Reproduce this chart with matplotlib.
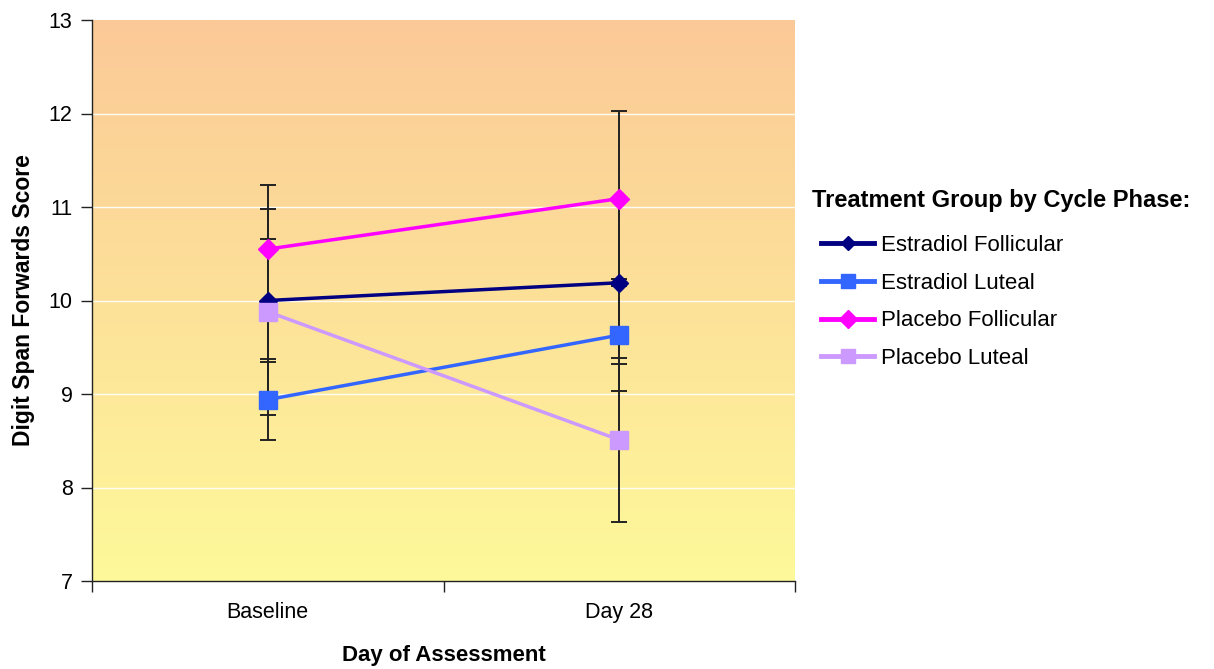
import numpy as np
import matplotlib.pyplot as plt
from matplotlib.colors import LinearSegmentedColormap
from matplotlib.lines import Line2D

plt.rcParams['font.family'] = ['Liberation Sans', 'DejaVu Sans']

days = ["Baseline", "Day 28"]
groups = ["Estradiol Follicular", "Estradiol Luteal", "Placebo Follicular", "Placebo Luteal"]
means = {
    "Estradiol Follicular": [10.00, 10.19],
    "Estradiol Luteal": [8.94, 9.63],
    "Placebo Follicular": [10.55, 11.09],
    "Placebo Luteal": [9.88, 8.51],
}
errors = {
    "Estradiol Follicular": [0.655, 0.87],
    "Estradiol Luteal": [0.43, 0.60],
    "Placebo Follicular": [0.69, 0.935],
    "Placebo Luteal": [1.10, 0.875],
}
colors = {
    "Estradiol Follicular": "#000080",
    "Estradiol Luteal": "#3366FF",
    "Placebo Follicular": "#FF00FF",
    "Placebo Luteal": "#CC99FF",
}
markers = {
    "Estradiol Follicular": ("D", 9),
    "Estradiol Luteal": ("s", 13),
    "Placebo Follicular": ("D", 10),
    "Placebo Luteal": ("s", 13),
}
legend_marker_size = {
    "Estradiol Follicular": 7,
    "Estradiol Luteal": 10,
    "Placebo Follicular": 9,
    "Placebo Luteal": 10,
}

fig = plt.figure(figsize=(12.14, 6.69), dpi=100)
ax = fig.add_axes([92 / 1214, 1 - 581 / 669, (795 - 92) / 1214, (581 - 20) / 669])

# Gradient plot-area fill: peach at top fading to pale yellow at bottom
cmap = LinearSegmentedColormap.from_list("bg", ["#FEF99A", "#FBC997"])
grad = np.linspace(0, 1, 256).reshape(-1, 1)
ax.imshow(grad, cmap=cmap, aspect="auto", origin="lower",
          extent=[0, 1, 0, 1], transform=ax.transAxes, zorder=0)

ax.set_xlim(-0.5, 1.5)
ax.set_ylim(7, 13)
for yv in range(8, 13):
    ax.axhline(yv, color="white", lw=1.0, zorder=1, alpha=0.9)

x = np.arange(len(days))
for g in groups:
    ax.errorbar(x, means[g], yerr=errors[g], fmt="none", ecolor="#222222",
                elinewidth=1.4, capsize=5.5, capthick=1.4, zorder=2)
for g in groups:
    m, ms = markers[g]
    ax.plot(x, means[g], color=colors[g], lw=2.5, marker=m, ms=ms,
            mec=colors[g], mfc=colors[g], zorder=3, label=g)

ax.set_yticks(range(7, 14))
ax.set_xticks([-0.5, 0.5, 1.5])
ax.set_xticklabels([])
ax.set_xticks(x, minor=True)
ax.set_xticklabels(days, minor=True)
ax.tick_params(axis="x", which="major", direction="out", length=8, width=1, colors="#222222")
ax.tick_params(axis="x", which="minor", length=0, pad=15, labelsize=15.5)
ax.tick_params(axis="y", direction="out", length=8, width=1, pad=6, labelsize=15.5, colors="#222222")
ax.tick_params(axis="both", which="both", labelcolor="black")
for s in ["top", "right"]:
    ax.spines[s].set_visible(False)
for s in ["left", "bottom"]:
    ax.spines[s].set_color("#222222")
    ax.spines[s].set_linewidth(1)

ax.set_xlabel("Day of Assessment", fontsize=16, fontweight="bold", va="center")
ax.xaxis.set_label_coords(0.5, -(655 - 581) / 561)
ax.set_ylabel("Digit Span Forwards Score", fontsize=16.5, fontweight="bold", va="center")
ax.yaxis.set_label_coords(-(92 - 24) / 703, 0.5)

fig.text(812 / 1214, 1 - 200 / 669, "Treatment Group by Cycle Phase:", fontsize=17,
         fontweight="bold", ha="left", va="center")
handles = [Line2D([], [], color=colors[g], lw=3.5, marker=markers[g][0],
                  ms=legend_marker_size[g], mec=colors[g], mfc=colors[g]) for g in groups]
leg = fig.legend(handles, groups, loc="upper left", bbox_to_anchor=(801 / 1214, 1 - 215 / 669),
                 frameon=False, fontsize=16,
                 handlelength=2.4, handletextpad=0.3, labelspacing=0.75)

fig.savefig("out.png", dpi=100)
